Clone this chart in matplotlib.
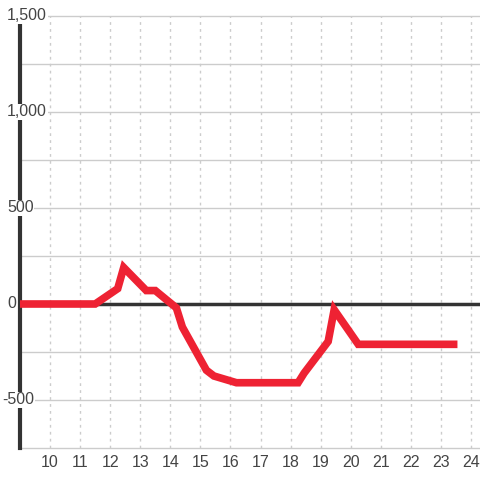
import matplotlib
matplotlib.use('Agg')
import matplotlib.pyplot as plt

# dados
horas = [9, 11.5, 12.25, 12.45, 13.2, 13.5, 14.2, 14.4, 15.2, 15.45, 16.2,
         18.25, 18.45, 19.25, 19.45, 20.25, 23.55]
valores = [0, 0, 80, 190, 70, 70, -20, -120, -345, -375, -410,
           -410, -360, -195, -30, -210, -210]
x_ticks = list(range(10, 25))
y_grid = [-750, -500, -250, 0, 250, 500, 750, 1000, 1250, 1500]
y_labels = [-500, 0, 500, 1000, 1500]

plt.rcParams['font.family'] = ['Liberation Sans', 'DejaVu Sans']

fig = plt.figure(figsize=(4.8, 4.8), dpi=100)
ax = fig.add_axes([20 / 480, 32 / 480, 460 / 480, 432 / 480])
ax.set_xlim(9, 24.3)
ax.set_ylim(-750, 1500)

for v in y_grid:
    ax.axhline(v, color='#cccccc', lw=1, zorder=1, clip_on=False)
for h in x_ticks:
    ax.axvline(h, color='#cccccc', lw=1, ls=(0, (2, 3)), zorder=1)

ax.axhline(0, color='#333333', lw=2.5, zorder=2)
ax.plot(horas, valores, color='#ee2233', lw=5.5, solid_joinstyle='miter',
        solid_capstyle='butt', zorder=3)

for s in ['top', 'right', 'bottom']:
    ax.spines[s].set_visible(False)
ax.spines['left'].set_color('#333333')
ax.spines['left'].set_linewidth(3)

ax.set_xticks(x_ticks)
ax.set_xticklabels([str(h) for h in x_ticks])
ax.tick_params(axis='x', length=0, labelsize=11.5, labelcolor='#444444', pad=5)
ax.set_yticks([])

for v in y_labels:
    x0 = -18 / 460 if v < 0 else -13 / 460
    ax.text(x0, v, f'{v:,}', transform=ax.get_yaxis_transform(),
            ha='left', va='center', fontsize=11.5, color='#444444', zorder=5,
            bbox=dict(facecolor='white', edgecolor='none', pad=0.5), clip_on=False)

fig.savefig('out.png', dpi=100)
plt.close()
